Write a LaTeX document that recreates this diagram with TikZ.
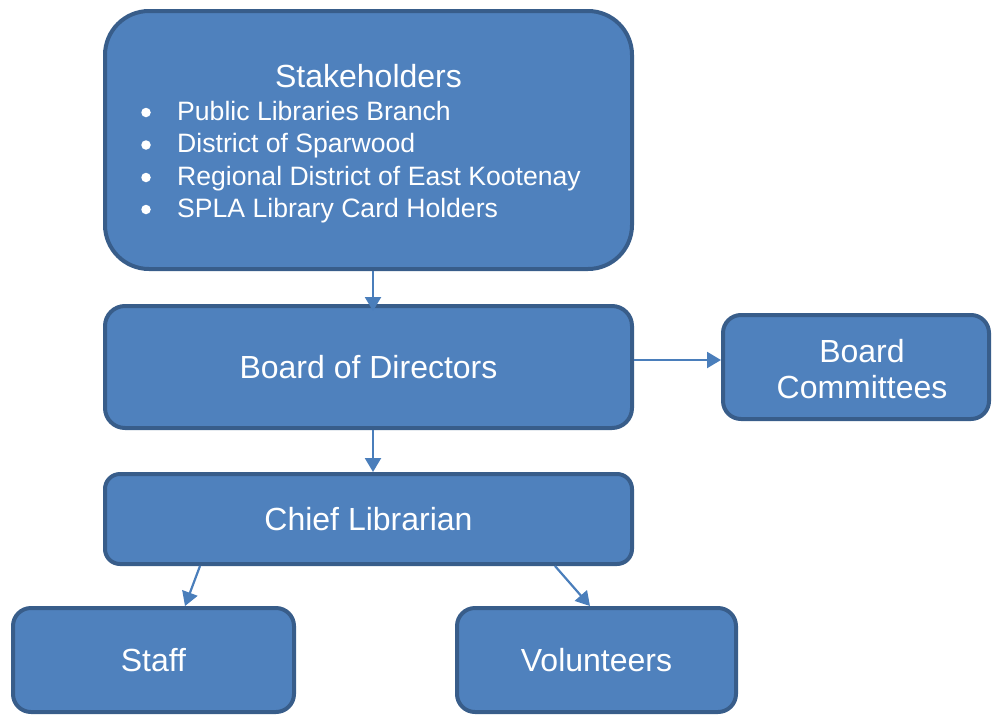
\documentclass[tikz,border=0pt]{standalone}
\usepackage{fontspec}
\setmainfont{Liberation Sans}
\usetikzlibrary{arrows.meta,calc}
\definecolor{boxfill}{HTML}{4F81BD}
\definecolor{boxline}{HTML}{385D8A}
\definecolor{arrowblue}{HTML}{4A7EBB}
\begin{document}
\begin{tikzpicture}[x=1pt,y=-1pt,
  orgbox/.style={draw=boxline, fill=boxfill, line width=4pt, rectangle,
    inner sep=0pt, text=white, font=\fontsize{32}{36}\selectfont, align=center},
  titletext/.style={text=white, font=\fontsize{32}{36}\selectfont, anchor=base, inner sep=0pt, align=center},
  itemtext/.style={text=white, font=\fontsize{26.6}{30}\selectfont, anchor=base west, inner sep=0pt},
  itemdot/.style={circle, fill=white, minimum size=9.5pt, inner sep=0pt},
  link/.style={draw=arrowblue, line width=2.2pt, -{Triangle[length=14pt,width=16pt]}},
]
\useasboundingbox (0,0) rectangle (992,715);

% boxes
\node[orgbox, rounded corners=44pt, minimum width=527pt, minimum height=258pt] (stake) at (368.5,140) {};
\node[orgbox, rounded corners=20pt, minimum width=527pt, minimum height=122pt] (board) at (368.5,367) {Board of Directors};
\node[orgbox, rounded corners=18pt, minimum width=266pt, minimum height=104pt] (comm) at (856,367) {};
\node[orgbox, rounded corners=15pt, minimum width=527pt, minimum height=90pt] (chief) at (368.5,519) {Chief Librarian};
\node[orgbox, rounded corners=18pt, minimum width=281pt, minimum height=104pt] (staff) at (153.5,660) {Staff};
\node[orgbox, rounded corners=18pt, minimum width=279pt, minimum height=104pt] (vol) at (596.5,660) {Volunteers};

% committee label (base anchor sits on the last line)
\node[titletext] (commtext) at (862,398) {Board\\Committees};

% stakeholder title and list
\node[titletext] (stitle) at (368.5,87) {Stakeholders};
\node[itemdot] (d1) at (146,112.5) {};
\node[itemdot] (d2) at (146,145) {};
\node[itemdot] (d3) at (146,177.5) {};
\node[itemdot] (d4) at (146,209.5) {};
\node[itemtext] (i1) at (177,120) {Public Libraries Branch};
\node[itemtext] (i2) at (177,152.5) {District of Sparwood};
\node[itemtext] (i3) at (177,185) {Regional District of East Kootenay};
\node[itemtext] (i4) at (177,217) {SPLA Library Card Holders};

% connectors
\draw[link] ($(stake.south)+(4.5,0)$) -- ($(board.north)+(4.5,7)$);
\draw[link] ($(board.south)+(4.5,0)$) -- ($(chief.north)+(4.5,0)$);
\draw[link] ($(board.east)+(0,-7)$) -- ($(comm.west)+(0,-7)$);
\draw[link] ($(chief.south west)+(97,0)$) -- ($(staff.north west)+(174,0)$);
\draw[link] ($(chief.south west)+(452,0)$) -- ($(vol.north west)+(135,0)$);
\end{tikzpicture}
\end{document}
